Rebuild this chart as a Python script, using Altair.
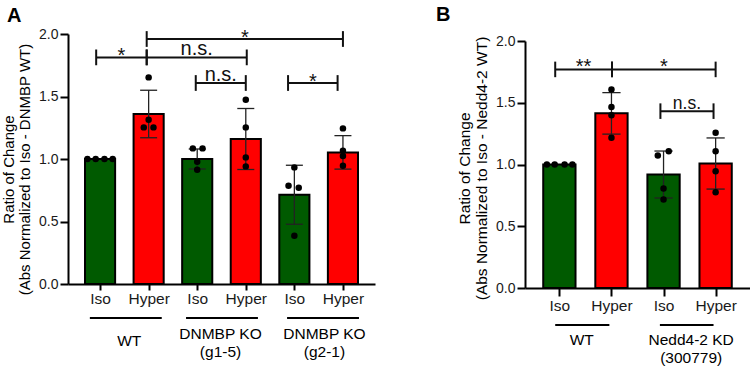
import altair as alt
import pandas as pd

FONT = "Liberation Sans"
GREEN = "#005a00"
RED = "#ff0000"

# ---------------- Panel A: DNMBP knockout lines ----------------
a_pos = [1, 2, 3, 4, 5, 6]
a_cond = ["Iso", "Hyper", "Iso", "Hyper", "Iso", "Hyper"]
a_mean = [1.0, 1.36, 1.0, 1.16, 0.714, 1.053]
a_sd = [0.0, 0.19, 0.08, 0.244, 0.236, 0.134]
a_points = [
    [1.0, 1.0, 1.0, 1.0],
    [1.653, 1.314, 1.253, 1.253],
    [1.085, 1.085, 0.978, 0.914],
    [1.474, 1.253, 1.013, 0.941],
    [0.933, 0.786, 0.77, 0.386],
    [1.245, 1.066, 1.024, 0.946],
]
a_jitter = [
    [-0.26, -0.09, 0.09, 0.26],
    [0.0, 0.0, -0.1, 0.1],
    [-0.09, 0.11, 0.0, 0.0],
    [0.0, 0.0, 0.0, 0.0],
    [0.0, -0.12, 0.09, 0.0],
    [0.0, 0.0, 0.0, 0.0],
]
a_br_x1 = [0.92, 1.96, 1.96, 2.97, 4.87]
a_br_x2 = [1.96, 4.02, 6.0, 4.0, 5.89]
a_br_y = [1.813, 1.813, 1.96, 1.608, 1.608]
a_br_txt = ["*", "n.s.", "*", "n.s.", "*"]
a_grp_x1 = [0.79, 2.77, 4.85]
a_grp_x2 = [2.27, 4.25, 6.33]
a_grp_lbl = ["WT", "DNMBP KO\n(g1-5)", "DNMBP KO\n(g2-1)"]
a_grp_lbl_x = [1.6, 3.48, 5.62]
a_ytitle = ["Ratio of Change", "(Abs Normalized to Iso - DNMBP WT)"]

# ---------------- Panel B: Nedd4-2 knockdown ----------------
b_pos = [1, 2, 3, 4]
b_cond = ["Iso", "Hyper", "Iso", "Hyper"]
b_mean = [1.0, 1.414, 0.919, 1.008]
b_sd = [0.0, 0.168, 0.19, 0.207]
b_points = [
    [1.0, 1.0, 1.0, 1.0],
    [1.608, 1.465, 1.398, 1.216],
    [1.108, 1.073, 0.806, 0.717],
    [1.257, 1.108, 0.946, 0.776],
]
b_jitter = [
    [-0.24, -0.09, 0.1, 0.25],
    [0.0, 0.0, 0.0, 0.0],
    [0.1, -0.11, 0.0, 0.0],
    [0.0, 0.0, 0.0, 0.0],
]
b_br_x1 = [0.92, 2.01, 2.94]
b_br_x2 = [2.01, 4.0, 3.96]
b_br_y = [1.77, 1.77, 1.432]
b_br_txt = ["**", "*", "n.s."]
b_grp_x1 = [0.92, 2.93]
b_grp_x2 = [1.96, 3.96]
b_grp_lbl = ["WT", "Nedd4-2 KD\n(300779)"]
b_grp_lbl_x = [1.43, 3.53]
b_ytitle = ["Ratio of Change", "(Abs Normalized to Iso - Nedd4-2 WT)"]

Y_TICKS = [0.0, 0.5, 1.0, 1.5, 2.0]


def panel(letter, pos, cond, mean, sd, points, jitter, br_x1, br_x2, br_y, br_txt,
          grp_x1, grp_x2, grp_lbl, grp_lbl_x, ytitle, width, height, yrange,
          xtick, xlabpad, ns_size, star_dy, grp_line_dy, grp_single_dy, grp_multi_dy,
          grp_baseline, title_dx, title_offset, ytitle_size, ytitle_lh, ytitle_y):
    half = 0.31
    cap = 0.175
    bars = pd.DataFrame({"pos": pos, "cond": cond, "mean": mean, "sd": sd})
    bars["left"] = bars["pos"] - half
    bars["right"] = bars["pos"] + half
    bars["base"] = 0.0
    bars["lo"] = bars["mean"] - bars["sd"]
    bars["hi"] = bars["mean"] + bars["sd"]
    errs = bars[bars["sd"] > 0].copy()
    caps = pd.concat([
        errs.assign(yv=errs["lo"]),
        errs.assign(yv=errs["hi"]),
    ])
    caps["cl"] = caps["pos"] - cap
    caps["cr"] = caps["pos"] + cap

    pts = pd.DataFrame([
        {"x": p + j, "v": v}
        for p, vals, jit in zip(pos, points, jitter)
        for v, j in zip(vals, jit)
    ])

    br = pd.DataFrame({"x1": br_x1, "x2": br_x2, "y": br_y, "txt": br_txt})
    br["xm"] = (br["x1"] + br["x2"]) / 2
    ends = pd.DataFrame(
        [{"x": r.x1, "y": r.y} for r in br.itertuples()]
        + [{"x": r.x2, "y": r.y} for r in br.itertuples()]
    )
    ends["ya"] = ends["y"] - 0.063
    ends["yb"] = ends["y"] + 0.063

    grp = pd.DataFrame({"x1": grp_x1, "x2": grp_x2, "lbl": grp_lbl, "x": grp_lbl_x})
    multi = grp["lbl"].str.contains("\n")

    lo, hi = pos[0] - 0.66, pos[-1] + 0.66
    xs = alt.Scale(domain=[lo, hi], nice=False, zero=False)
    ys = alt.Scale(domain=[0, 2.0], nice=False, zero=True, range=yrange)
    label_list = "[" + ",".join("'%s'" % c for c in cond) + "]"
    xaxis = alt.Axis(
        values=pos, labelExpr=label_list + "[datum.value - 1]", title=None,
        grid=False, labelAngle=0, tickSize=xtick, labelPadding=xlabpad,
        labelFontSize=15.5, labelOverlap=False, labelFlush=False,
    )
    yaxis = alt.Axis(
        values=Y_TICKS, format=".1f", title=ytitle, grid=False,
        tickSize=8, labelPadding=2, labelFontSize=14, titleFontSize=ytitle_size,
        titleFontWeight="normal", titleLineHeight=ytitle_lh, titlePadding=6,
        titleY=ytitle_y,
    )

    def X(f):
        return alt.X(f, type="quantitative", scale=xs, axis=xaxis)

    def Y(f):
        return alt.Y(f, type="quantitative", scale=ys, axis=yaxis)

    bar_layer = alt.Chart(bars).mark_bar(stroke="black", strokeWidth=2).encode(
        x=X("left"), x2="right", y=Y("mean"), y2="base",
        fill=alt.Fill("cond:N", scale=alt.Scale(domain=["Iso", "Hyper"], range=[GREEN, RED]), legend=None),
    )
    err_layer = alt.Chart(errs).mark_rule(color="#222", strokeWidth=1.3).encode(
        x=X("pos"), y=Y("lo"), y2="hi"
    )
    cap_layer = alt.Chart(caps).mark_rule(color="#222", strokeWidth=1.3).encode(
        x=X("cl"), x2="cr", y=Y("yv")
    )
    pt_layer = alt.Chart(pts).mark_circle(size=42, color="black", opacity=1).encode(
        x=X("x"), y=Y("v")
    )
    br_layer = alt.Chart(br).mark_rule(color="#111", strokeWidth=2).encode(
        x=X("x1"), x2="x2", y=Y("y")
    )
    end_layer = alt.Chart(ends).mark_rule(color="#111", strokeWidth=2).encode(
        x=X("x"), y=Y("ya"), y2="yb"
    )
    star_layer = alt.Chart(br[br["txt"].str.startswith("*")]).mark_text(
        font=FONT, fontSize=20, baseline="alphabetic", dy=star_dy, color="#111"
    ).encode(x=X("xm"), y=Y("y"), text="txt")
    ns_layer = alt.Chart(br[br["txt"] == "n.s."]).mark_text(
        font=FONT, fontSize=ns_size, baseline="alphabetic", dy=-2.5, color="#111"
    ).encode(x=X("xm"), y=Y("y"), text="txt")
    grp_line = alt.Chart(grp).mark_rule(color="black", strokeWidth=2).encode(
        x=X("x1"), x2="x2", y=alt.value(height + grp_line_dy)
    )
    text_style = dict(font=FONT, fontSize=15.5, lineBreak="\n", baseline=grp_baseline,
                      lineHeight=18, color="black")
    grp_text_single = alt.Chart(grp[~multi]).mark_text(**text_style).encode(
        x=X("x"), y=alt.value(height + grp_single_dy), text="lbl"
    )
    grp_text_multi = alt.Chart(grp[multi]).mark_text(**text_style).encode(
        x=X("x"), y=alt.value(height + grp_multi_dy), text="lbl"
    )

    return alt.layer(
        bar_layer, err_layer, cap_layer, pt_layer, br_layer, end_layer,
        star_layer, ns_layer, grp_line, grp_text_single, grp_text_multi,
    ).properties(
        width=width, height=height,
        title=alt.TitleParams(
            letter, anchor="start", frame="group", fontSize=20, fontWeight="bold",
            font=FONT, dx=title_dx, offset=title_offset, color="black",
        ),
    )


panel_a = panel(
    "A", a_pos, a_cond, a_mean, a_sd, a_points, a_jitter,
    a_br_x1, a_br_x2, a_br_y, a_br_txt,
    a_grp_x1, a_grp_x2, a_grp_lbl, a_grp_lbl_x, a_ytitle,
    width=307, height=250, yrange=[250, 0], xtick=6, xlabpad=1,
    ns_size=20, star_dy=5, grp_line_dy=34, grp_single_dy=57, grp_multi_dy=49.5,
    grp_baseline="middle", title_dx=-61, title_offset=1,
    ytitle_size=15, ytitle_lh=16, ytitle_y=135,
)
panel_b = panel(
    "B", b_pos, b_cond, b_mean, b_sd, b_points, b_jitter,
    b_br_x1, b_br_x2, b_br_y, b_br_txt,
    b_grp_x1, b_grp_x2, b_grp_lbl, b_grp_lbl_x, b_ytitle,
    width=225, height=254, yrange=[254, 7], xtick=8, xlabpad=2,
    ns_size=17.5, star_dy=4, grp_line_dy=37, grp_single_dy=45, grp_multi_dy=45,
    grp_baseline="top", title_dx=-89, title_offset=9,
    ytitle_size=15.5, ytitle_lh=17, ytitle_y=134,
)

chart = alt.hconcat(panel_a, panel_b, spacing=61).properties(
    padding={"left": 1, "top": 5, "right": 0, "bottom": 0}
).configure_view(stroke=None).configure_axis(
    domainColor="black", domainWidth=2, tickColor="black", tickWidth=2,
    labelColor="#1a1a1a", titleColor="black", labelFont=FONT, titleFont=FONT,
).configure_text(font=FONT)

chart.save("out.html", embed_options={"renderer": "svg", "actions": False})
